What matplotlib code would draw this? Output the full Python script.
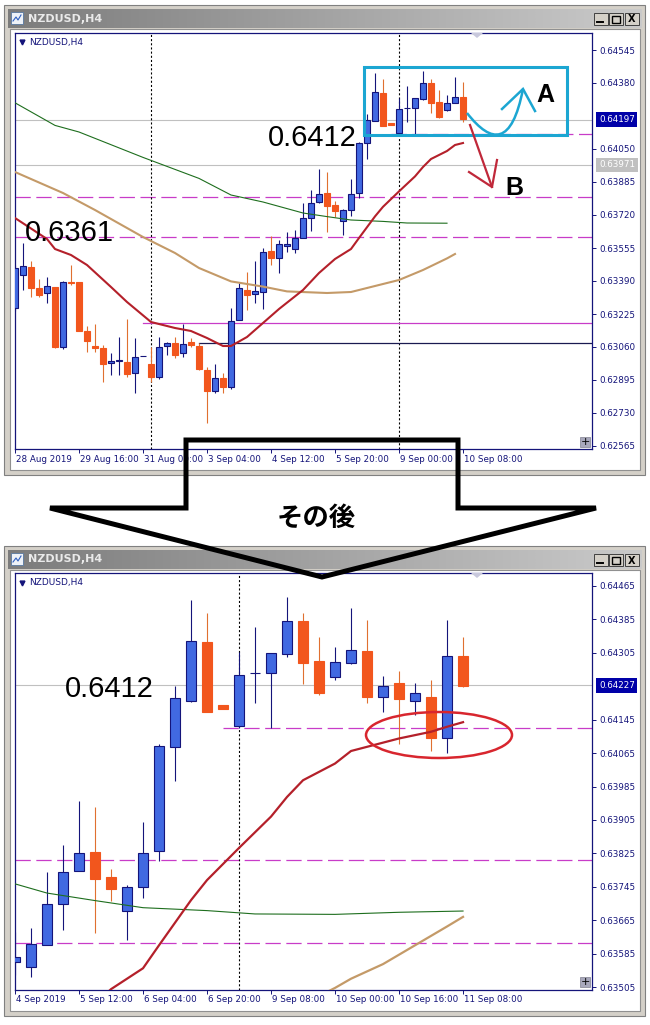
import numpy as np
import matplotlib
matplotlib.use('Agg')
import matplotlib.pyplot as plt
import matplotlib.transforms as mtrans
from matplotlib.patches import Rectangle, Ellipse, Polygon, PathPatch
from matplotlib.path import Path
from matplotlib.colors import LinearSegmentedColormap

plt.rcParams['font.family'] = ['DejaVu Sans']
plt.rcParams['lines.scale_dashes'] = False

W, H = 650, 1025

# H4 bars (index 0 = first bar of the upper chart, 34 = first bar of the lower chart)
bar_open = [0.63254, 0.63420, 0.63462, 0.63354, 0.63329, 0.63359, 0.63059, 0.63384, 0.63384, 0.63142,
            0.63065, 0.63057, 0.62979, 0.62989, 0.62987, 0.62929, 0.63015, 0.62975, 0.62912, 0.63065,
            0.63082, 0.63029, 0.63087, 0.63065, 0.62945, 0.62842, 0.62907, 0.62862, 0.63195, 0.63345,
            0.63324, 0.63337, 0.63540, 0.63505, 0.63565, 0.63552, 0.63606, 0.63703, 0.63783, 0.63828,
            0.63768, 0.63688, 0.63744, 0.63830, 0.64079, 0.64190, 0.64331, 0.64180, 0.64131, 0.64257,
            0.64256, 0.64302, 0.64381, 0.64285, 0.64246, 0.64280, 0.64309, 0.64200, 0.64232, 0.64189,
            0.64199, 0.64100, 0.64297]
bar_high = [0.63470, 0.63579, 0.63492, 0.63399, 0.63409, 0.63362, 0.63390, 0.63470, 0.63386, 0.63165,
            0.63175, 0.63070, 0.63029, 0.63112, 0.63199, 0.63104, 0.63015, 0.63062, 0.63109, 0.63087,
            0.63109, 0.63175, 0.63104, 0.63079, 0.62962, 0.62975, 0.62929, 0.63254, 0.63380, 0.63437,
            0.63492, 0.63554, 0.63615, 0.63595, 0.63637, 0.63646, 0.63781, 0.63845, 0.63950, 0.63937,
            0.63788, 0.63749, 0.63899, 0.64087, 0.64226, 0.64431, 0.64400, 0.64180, 0.64306, 0.64366,
            0.64304, 0.64438, 0.64401, 0.64344, 0.64320, 0.64412, 0.64384, 0.64250, 0.64262, 0.64232,
            0.64240, 0.64384, 0.64344]
bar_low = [0.63240, 0.63345, 0.63309, 0.63312, 0.63282, 0.63056, 0.63052, 0.63370, 0.63138, 0.63037,
           0.63037, 0.62887, 0.62920, 0.62920, 0.62912, 0.62829, 0.63015, 0.62887, 0.62899, 0.63020,
           0.63004, 0.63009, 0.63062, 0.62945, 0.62682, 0.62829, 0.62829, 0.62849, 0.63195, 0.63245,
           0.63282, 0.63249, 0.63470, 0.63432, 0.63534, 0.63529, 0.63606, 0.63641, 0.63782, 0.63634,
           0.63712, 0.63618, 0.63717, 0.63807, 0.63999, 0.64188, 0.64164, 0.64170, 0.64124, 0.64186,
           0.64124, 0.64294, 0.64230, 0.64205, 0.64240, 0.64278, 0.64184, 0.64164, 0.64087, 0.64156,
           0.64070, 0.64066, 0.64222]
bar_close = [0.63454, 0.63465, 0.63354, 0.63320, 0.63367, 0.63059, 0.63387, 0.63380, 0.63142, 0.63092,
             0.63057, 0.62975, 0.62990, 0.62995, 0.62925, 0.63009, 0.63015, 0.62912, 0.63059, 0.63082,
             0.63020, 0.63075, 0.63070, 0.62949, 0.62842, 0.62904, 0.62862, 0.63192, 0.63354, 0.63320,
             0.63340, 0.63537, 0.63505, 0.63575, 0.63577, 0.63607, 0.63705, 0.63780, 0.63827, 0.63764,
             0.63740, 0.63744, 0.63825, 0.64082, 0.64196, 0.64333, 0.64164, 0.64170, 0.64252, 0.64257,
             0.64304, 0.64381, 0.64281, 0.64208, 0.64282, 0.64312, 0.64199, 0.64226, 0.64194, 0.64210,
             0.64102, 0.64298, 0.64226]
top_last_bar = 56   # the upper screenshot ends here

# moving averages (bar index, price)
ma_red_bar = [0, 4, 5, 7, 9, 12, 14, 17, 20, 22, 24, 26, 27, 29, 31, 33, 36, 38, 40, 42, 43, 45, 46,
              48, 50, 51, 52, 54, 55, 56, 58, 60, 61, 62]
ma_red = [0.63705, 0.63600, 0.63550, 0.63520, 0.63470, 0.63360, 0.63285, 0.63185, 0.63155, 0.63140,
          0.63105, 0.63065, 0.63065, 0.63110, 0.63180, 0.63250, 0.63345, 0.63430, 0.63500, 0.63550,
          0.63605, 0.63713, 0.63761, 0.63838, 0.63913, 0.63960, 0.64000, 0.64040, 0.64070, 0.64080,
          0.64100, 0.64116, 0.64128, 0.64139]
ma_tan_bar = [0, 6, 10, 16, 20, 23, 27, 31, 34, 39, 42, 45, 48, 51, 54, 55, 57, 59, 61, 62]
ma_tan = [0.63935, 0.63830, 0.63745, 0.63610, 0.63530, 0.63455, 0.63388, 0.63362, 0.63338, 0.63330,
          0.63335, 0.63365, 0.63395, 0.63445, 0.63503, 0.63525, 0.63560, 0.63605, 0.63650, 0.63673]
ma_green_bar = [0, 5, 8, 16, 23, 27, 31, 34, 36, 39, 42, 46, 49, 54, 58, 62]
ma_green = [0.64281, 0.64168, 0.64135, 0.64008, 0.63903, 0.63820, 0.63785, 0.63752, 0.63730, 0.63712,
            0.63695, 0.63688, 0.63680, 0.63679, 0.63684, 0.63687]

# horizontal lines
dashed_levels = [0.63810, 0.63610]
level_6412 = 0.64124
level_6412_start = 47
top_solid_levels = [0.63180, 0.63080]
top_solid_start = [16, 23]
separator_bars = [17, 48]

top_bid, top_gray = 0.64197, 0.63971
bot_bid = 0.64227

top_price_ticks = [0.64545, 0.64380, 0.64050, 0.63885, 0.63720, 0.63555, 0.63390, 0.63225,
                   0.63060, 0.62895, 0.62730, 0.62565]
bot_price_ticks = [0.64465, 0.64385, 0.64305, 0.64145, 0.64065, 0.63985, 0.63905, 0.63825,
                   0.63745, 0.63665, 0.63585, 0.63505]
top_date_bars = [0, 8, 16, 24, 32, 40, 48, 56]
top_dates = ['28 Aug 2019', '29 Aug 16:00', '31 Aug 00:00', '3 Sep 04:00', '4 Sep 12:00',
             '5 Sep 20:00', '9 Sep 00:00', '10 Sep 08:00']
bot_date_bars = [34, 38, 42, 46, 50, 54, 58, 62]
bot_dates = ['4 Sep 2019', '5 Sep 12:00', '6 Sep 04:00', '6 Sep 20:00', '9 Sep 08:00',
             '10 Sep 00:00', '10 Sep 16:00', '11 Sep 08:00']

NAVY = '#14147A'
BULL = '#4169E1'
BEAR = '#F2561D'
BEAR_WICK = '#E07030'
MAGENTA = '#C83CC8'
CYAN = '#1CA6D2'

fig = plt.figure(figsize=(W / 100, H / 100), dpi=100)


def px_axes(x0, y0, x1, y1, z):
    return fig.add_axes([x0 / W, 1 - y1 / H, (x1 - x0) / W, (y1 - y0) / H], zorder=z)


# background (window chrome)
bg = px_axes(0, 0, W, H, 0)
title_cmap = LinearSegmentedColormap.from_list('title', ['#7C7C7C', '#CACACA'])


def draw_window(top, bottom):
    bg.add_patch(Rectangle((4, top), 641, bottom - top, fc='#D4D0C8', ec='#808080', lw=0.8))
    bg.imshow(np.linspace(0, 1, 256)[None, :], extent=(8, 642, top + 23, top + 4),
              cmap=title_cmap, aspect='auto', zorder=2)
    bg.add_patch(Rectangle((10, top + 24), 630, bottom - top - 29, fc='white', ec='#909090', lw=0.8, zorder=2))
    bg.add_patch(Rectangle((11, top + 7), 12, 12, fc='#EEF2F8', ec='#5878A0', lw=0.6, zorder=3))
    bg.plot([13, 16, 18, 21], [top + 16, top + 12, top + 15, top + 10], color='#3060C0', lw=0.8, zorder=4)
    bg.text(28, top + 13.5, 'NZDUSD,H4', color='#EAEAEA', fontsize=8, fontweight='bold',
            va='center', ha='left', zorder=4)
    for bx in [594, 609, 625]:
        bg.add_patch(Rectangle((bx, top + 8), 14, 12, fc='#D4D0C8', ec='#404040', lw=0.7, zorder=3))
    bg.plot([597, 603], [top + 17, top + 17], color='black', lw=1.4, zorder=4)
    bg.add_patch(Rectangle((612, top + 10.5), 8, 7, fc='none', ec='black', lw=1.0, zorder=4))
    bg.text(632, top + 14.5, 'X', fontsize=7, fontweight='bold', ha='center', va='center', zorder=4)


draw_window(5, 475)
draw_window(546, 1016)
bg.set_xlim(0, W)
bg.set_ylim(H, 0)
bg.axis('off')


def draw_chart(ax, first, last, upto, bar_w, ylim, ticks, date_bars, dates, bid, lw_ma):
    o = np.array(bar_open[:upto + 1])
    h = np.array(bar_high[:upto + 1])
    lo = np.array(bar_low[:upto + 1])
    c = np.array(bar_close[:upto + 1])
    x = np.arange(len(o))
    up = c >= o
    ax.vlines(x[up], lo[up], h[up], colors=NAVY, lw=0.8, zorder=3)
    ax.vlines(x[~up], lo[~up], h[~up], colors=BEAR_WICK, lw=0.8, zorder=3)
    ax.bar(x[up], c[up] - o[up], bottom=o[up], width=bar_w, color=BULL, edgecolor=NAVY, lw=0.8, zorder=4)
    ax.bar(x[~up], c[~up] - o[~up], bottom=o[~up], width=bar_w, color=BEAR, edgecolor=BEAR, lw=0.8, zorder=4)

    for bars, vals, col, lw in [(ma_green_bar, ma_green, '#1E6E1E', 0.8),
                                (ma_tan_bar, ma_tan, '#C49A68', lw_ma),
                                (ma_red_bar, ma_red, '#B4202A', lw_ma)]:
        keep = [k for k, b in enumerate(bars) if b <= upto]
        ax.plot([bars[k] for k in keep], [vals[k] for k in keep], color=col, lw=lw, zorder=5)

    for lvl in dashed_levels:
        ax.axhline(lvl, color=MAGENTA, lw=0.9, ls=(0, (11, 4)), zorder=2)
    ax.plot([level_6412_start, last + 20], [level_6412, level_6412], color=MAGENTA, lw=0.9,
            ls=(0, (11, 4)), zorder=2)
    ax.axhline(bid, color='#C0C0C0', lw=0.8, zorder=1)
    for b in separator_bars:
        ax.axvline(b, color='black', lw=0.8, ls=(0, (1.5, 1.5)), zorder=2)

    ax.set_xlim(first, last)
    ax.set_ylim(*ylim)
    ax.yaxis.tick_right()
    ax.set_yticks(ticks)
    ax.set_yticklabels([f'{t:.5f}' for t in ticks])
    ax.tick_params(axis='y', length=3, width=0.7, colors=NAVY, labelsize=6.3, pad=2)
    ax.set_xticks(date_bars)
    ax.set_xticklabels([])
    ax.tick_params(axis='x', length=3, width=0.7, colors=NAVY)
    trans = mtrans.offset_copy(mtrans.blended_transform_factory(ax.transData, ax.transAxes),
                               fig=fig, x=1, y=-10, units='dots')
    for b, d in zip(date_bars, dates):
        ax.text(b, 0, d, transform=trans, fontsize=6.3, color=NAVY, ha='left', va='center')
    for s in ax.spines.values():
        s.set_color(NAVY)
        s.set_linewidth(0.9)

    lab = mtrans.blended_transform_factory(ax.transAxes, ax.transData)
    ax.text(1.012, bid, f'{bid:.5f}', transform=lab, fontsize=6.3, color='white', ha='left',
            va='center', clip_on=False, zorder=6,
            bbox=dict(boxstyle='square,pad=0.3', fc='#0000A8', ec='none'))
    return lab


# upper chart
ax1 = px_axes(15, 33, 592, 449, 2)
lab1 = draw_chart(ax1, 0, 72.125, top_last_bar, 0.64, (0.62550, 0.64630), top_price_ticks,
                  top_date_bars, top_dates, top_bid, 1.5)
ax1.axhline(top_gray, color='#C0C0C0', lw=0.8, zorder=1)
ax1.text(1.012, top_gray, f'{top_gray:.5f}', transform=lab1, fontsize=6.3, color='white', ha='left',
         va='center', clip_on=False, zorder=6, bbox=dict(boxstyle='square,pad=0.3', fc='#C0C0C0', ec='none'))
ax1.plot([top_solid_start[0], 80], [top_solid_levels[0]] * 2, color=MAGENTA, lw=0.9, zorder=2)
ax1.plot([top_solid_start[1], 80], [top_solid_levels[1]] * 2, color='#1A1A50', lw=0.9, zorder=2)

# lower chart
ax2 = px_axes(15, 573, 592, 990, 2)
draw_chart(ax2, 34, 70.06, len(bar_open) - 1, 0.66, (0.63498, 0.64496), bot_price_ticks,
           bot_date_bars, bot_dates, bot_bid, 1.6)

# overlay: annotations in pixel space
fg = px_axes(0, 0, W, H, 5)
fg.set_xlim(0, W)
fg.set_ylim(H, 0)
fg.axis('off')
fg.patch.set_alpha(0)

for y0 in [42, 583]:
    fg.plot(22, y0, marker='v', ms=3.5, color=NAVY)
    fg.text(29, y0, 'NZDUSD,H4', fontsize=6.5, color=NAVY, va='center', ha='left')
for y0 in [33, 573]:
    fg.add_patch(Polygon([(471, y0), (483, y0), (477, y0 + 5)], closed=True, fc='#C8C8DC', ec='none'))
for y0 in [437, 977]:
    fg.add_patch(Rectangle((580, y0), 10, 10, fc='#A8A8BC', ec='#808090', lw=0.5))
    fg.text(585, y0 + 5, '+', fontsize=8, ha='center', va='center', color='black')

big = dict(fontsize=21, family=['Liberation Sans'], color='black', va='baseline')
fg.text(357, 146, '0.6412', ha='right', **big)
fg.text(25, 241, '0.6361', ha='left', **big)
fg.text(65, 697, '0.6412', ha='left', **big)

# scenario A / B
fg.add_patch(Rectangle((364, 67), 203, 68, fill=False, ec=CYAN, lw=2.2))
curve = Path([(467, 113), (492, 145), (512, 145), (523, 89)],
             [Path.MOVETO, Path.CURVE4, Path.CURVE4, Path.CURVE4])
fg.add_patch(PathPatch(curve, fill=False, ec=CYAN, lw=1.8))
fg.plot([502, 523, 535], [109, 89, 111], color=CYAN, lw=1.8, solid_joinstyle='miter')
fg.text(545, 95, 'A', fontsize=18, fontweight='bold', family=['Liberation Sans'], ha='center', va='center')
fg.plot([470, 492], [125, 187], color='#C0283A', lw=1.6)
fg.plot([469, 492, 497], [172, 187, 160], color='#C0283A', lw=1.6)
fg.text(514, 188, 'B', fontsize=18, fontweight='bold', family=['Liberation Sans'], ha='center', va='center')

fg.add_patch(Ellipse((439, 735), 146, 46, fill=False, ec='#D8262E', lw=1.8))

# big arrow between the two windows
fg.add_patch(Polygon([(186, 440), (458, 440), (458, 508), (596, 508), (322, 577), (50, 508), (186, 508)],
                     closed=True, fill=False, ec='black', lw=3.6, joinstyle='miter'))
fg.text(316, 518, 'その後', fontsize=19, fontweight='bold', family=['Noto Sans CJK JP', 'DejaVu Sans'],
        ha='center', va='center')

fig.savefig('out.png', dpi=100)
